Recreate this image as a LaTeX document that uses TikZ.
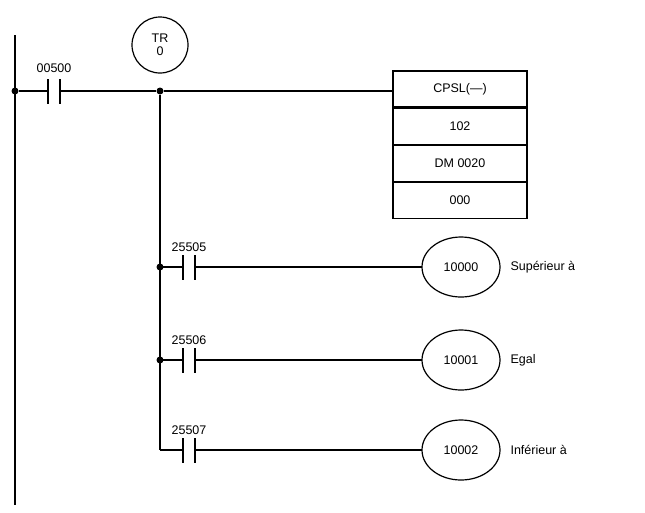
\documentclass[tikz,border=0pt]{standalone}
\usepackage{fontspec}
\setmainfont{Liberation Sans}
\usepackage{tikz}
\usetikzlibrary{calc,shapes.geometric}

\newcommand{\txtsize}{\fontsize{12.5}{14}\selectfont}
\tikzset{
    wire/.style={line width=1.2pt},
    plate/.style={line width=1.6pt},
    dot/.style={circle, fill, inner sep=0pt, minimum size=7pt},
    coil/.style={ellipse, draw, line width=1.2pt, minimum width=78pt, minimum height=60pt, font=\txtsize},
    cell/.style={rectangle, draw, line width=1.2pt, minimum width=134pt, minimum height=36pt, font=\txtsize},
    lbl/.style={font=\txtsize}
}

\begin{document}
\begin{tikzpicture}[x=1pt,y=-1pt]
    \useasboundingbox (0,0) rectangle (645,512);

    % Rail gauche
    \coordinate (top) at (15,35);
    \coordinate (bot) at (15,505);
    \draw[wire] (top) -- (bot);

    % Ligne principale
    \node[dot] (j0) at (15,91) {};
    \node[dot] (j1) at (160,91) {};
    \coordinate (c0a) at (48,91);
    \coordinate (c0b) at (60,91);
    \draw[wire] (j0) -- (c0a);
    \draw[wire] (c0b) -- (84,91) -- (j1) -- (393,91);
    \draw[plate] (48,79) -- (48,104);
    \draw[plate] (60,79) -- (60,104);
    \node[lbl, anchor=south] at (54,76) {00500};

    % Temporisateur
    \node[circle, draw, line width=1.2pt, minimum size=56pt, align=center, font=\txtsize, inner sep=0pt] (tr) at (160,45) {TR\\[-1pt]0};

    % Bloc CPSL
    \node[cell] (b1) at (460,89) {CPSL(---)};
    \node[cell, anchor=north] (b2) at (b1.south) {102};
    \node[cell, anchor=north] (b3) at (b2.south) {DM 0020};
    \node[cell, anchor=north] (b4) at (b3.south) {000};

    % Branches
    \draw[wire] (j1) -- (160,450);
    \foreach \y/\c/\q/\t in {267/25505/10000/Supérieur à, 360/25506/10001/Egal, 450/25507/10002/Inférieur à} {
        \draw[wire] (160,\y) -- (183,\y);
        \draw[wire] (195,\y) -- (422,\y);
        \draw[plate] (183,\y-12) -- (183,\y+13);
        \draw[plate] (195,\y-12) -- (195,\y+13);
        \node[lbl, anchor=south] at (189,\y-12) {\c};
        \node[coil, fill=white] at (461,\y) {\q};
        \node[lbl, anchor=west] at (507,\y) {\t};
    }
    \node[dot] at (160,267) {};
    \node[dot] at (160,360) {};
\end{tikzpicture}
\end{document}
